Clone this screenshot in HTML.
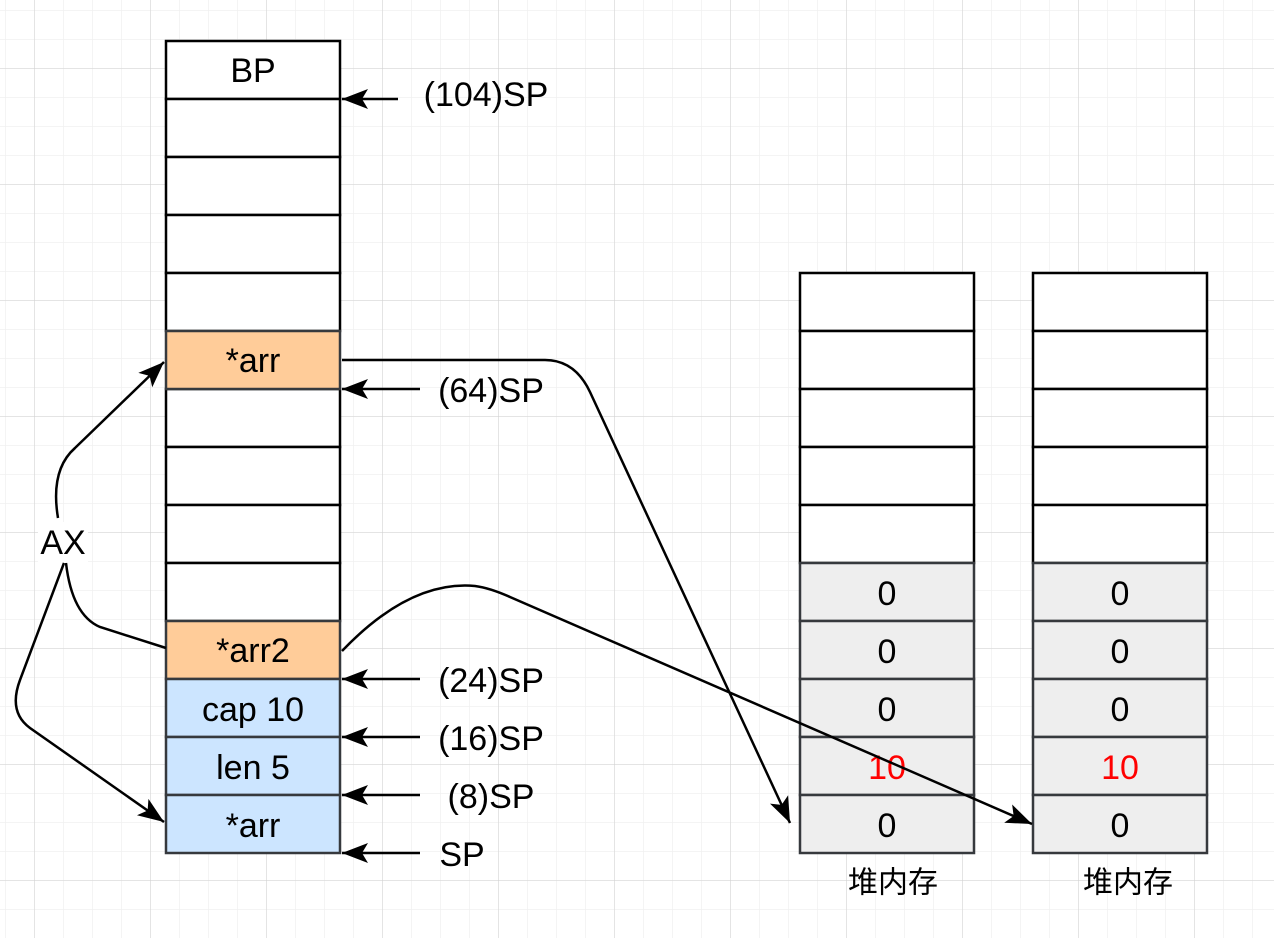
<!DOCTYPE html>
<html><head><meta charset="utf-8"><style>
html,body{margin:0;padding:0;background:#fff}
svg{display:block}
text{font-family:"Liberation Sans","Noto Sans CJK SC",sans-serif;font-size:34px;text-anchor:middle;dominant-baseline:central}
</style></head><body>
<svg width="1274" height="938" viewBox="0 0 1274 938" xmlns="http://www.w3.org/2000/svg">
<defs>
<pattern id="mi" width="29" height="29" patternUnits="userSpaceOnUse" x="5" y="10">
<path d="M0 0H29M0 0V29" stroke="#f0f0f0" stroke-width="1.5" fill="none"/></pattern>
<pattern id="ma" width="116" height="116" patternUnits="userSpaceOnUse" x="34" y="68">
<path d="M0 0H116M0 0V116" stroke="#d0d0d0" stroke-width="1" fill="none"/></pattern>
<marker id="ab" markerWidth="28" markerHeight="28" refX="26" refY="14" orient="auto" markerUnits="userSpaceOnUse" viewBox="0 0 28 28">
<path d="M0 4L26 14L0 24L6 14Z" fill="#000"/></marker>
</defs>
<rect width="1274" height="938" fill="url(#mi)"/>
<rect width="1274" height="938" fill="url(#ma)"/>

<g stroke="#000" stroke-width="2.5">
<rect x="166" y="41" width="174" height="58" fill="#fff"/>
<rect x="166" y="99" width="174" height="58" fill="#fff"/>
<rect x="166" y="157" width="174" height="58" fill="#fff"/>
<rect x="166" y="215" width="174" height="58" fill="#fff"/>
<rect x="166" y="273" width="174" height="58" fill="#fff"/>
<rect x="166" y="389" width="174" height="58" fill="#fff"/>
<rect x="166" y="447" width="174" height="58" fill="#fff"/>
<rect x="166" y="505" width="174" height="58" fill="#fff"/>
<rect x="166" y="563" width="174" height="58" fill="#fff"/>
</g>
<g stroke="#36393d" stroke-width="2.5">
<rect x="166" y="331" width="174" height="58" fill="#ffcc99"/>
<rect x="166" y="621" width="174" height="58" fill="#ffcc99"/>
<rect x="166" y="679" width="174" height="58" fill="#cce5ff"/>
<rect x="166" y="737" width="174" height="58" fill="#cce5ff"/>
<rect x="166" y="795" width="174" height="58" fill="#cce5ff"/>
</g>
<text x="253" y="71">BP</text>
<text x="253" y="361">*arr</text>
<text x="253" y="651">*arr2</text>
<text x="253" y="710">cap 10</text>
<text x="253" y="768">len 5</text>
<text x="253" y="826">*arr</text>

<g stroke="#000" stroke-width="2.5" fill="#fff">
<rect x="800" y="273" width="174" height="58"/><rect x="800" y="331" width="174" height="58"/><rect x="800" y="389" width="174" height="58"/><rect x="800" y="447" width="174" height="58"/><rect x="800" y="505" width="174" height="58"/>
<rect x="1033" y="273" width="174" height="58"/><rect x="1033" y="331" width="174" height="58"/><rect x="1033" y="389" width="174" height="58"/><rect x="1033" y="447" width="174" height="58"/><rect x="1033" y="505" width="174" height="58"/>
</g>
<g stroke="#36393d" stroke-width="2.5" fill="#eeeeee">
<rect x="800" y="563" width="174" height="58"/><rect x="800" y="621" width="174" height="58"/><rect x="800" y="679" width="174" height="58"/><rect x="800" y="737" width="174" height="58"/><rect x="800" y="795" width="174" height="58"/>
<rect x="1033" y="563" width="174" height="58"/><rect x="1033" y="621" width="174" height="58"/><rect x="1033" y="679" width="174" height="58"/><rect x="1033" y="737" width="174" height="58"/><rect x="1033" y="795" width="174" height="58"/>
</g>
<text x="887" y="594">0</text><text x="887" y="652">0</text><text x="887" y="710">0</text><text x="887" y="768" fill="#ff0000">10</text><text x="887" y="826">0</text>
<text x="1120" y="594">0</text><text x="1120" y="652">0</text><text x="1120" y="710">0</text><text x="1120" y="768" fill="#ff0000">10</text><text x="1120" y="826">0</text>
<text x="893" y="883" style="font-size:30px">堆内存</text>
<text x="1128" y="883" style="font-size:30px">堆内存</text>

<g stroke="#000" stroke-width="2.5" marker-end="url(#ab)">
<line x1="398" y1="99" x2="342" y2="99"/>
<line x1="420" y1="389" x2="342" y2="389"/>
<line x1="420" y1="679" x2="342" y2="679"/>
<line x1="420" y1="737" x2="342" y2="737"/>
<line x1="420" y1="795" x2="342" y2="795"/>
<line x1="420" y1="853" x2="342" y2="853"/>
</g>
<text x="486" y="95">(104)SP</text>
<text x="491" y="391">(64)SP</text>
<text x="491" y="681">(24)SP</text>
<text x="491" y="739">(16)SP</text>
<text x="491" y="797">(8)SP</text>
<text x="462" y="855">SP</text>

<g stroke="#000" stroke-width="2.5" fill="none">
<path d="M342 360 H545 Q575 360 590 392 L790 823" marker-end="url(#ab)"/>
<path d="M342 651 Q410 580 475 586 Q490 588 510 597 L1032 824" marker-end="url(#ab)"/>
<path d="M58 518 Q50 470 75 448 L164 362" marker-end="url(#ab)"/>
<path d="M66 563 Q72 615 100 627 L166 648"/>
<path d="M64 563 L20 680 Q8 712 30 728 L164 822" marker-end="url(#ab)"/>
</g>
<rect x="38" y="522" width="50" height="40" fill="#fff"/>
<text x="63" y="543">AX</text>
</svg>
</body></html>
